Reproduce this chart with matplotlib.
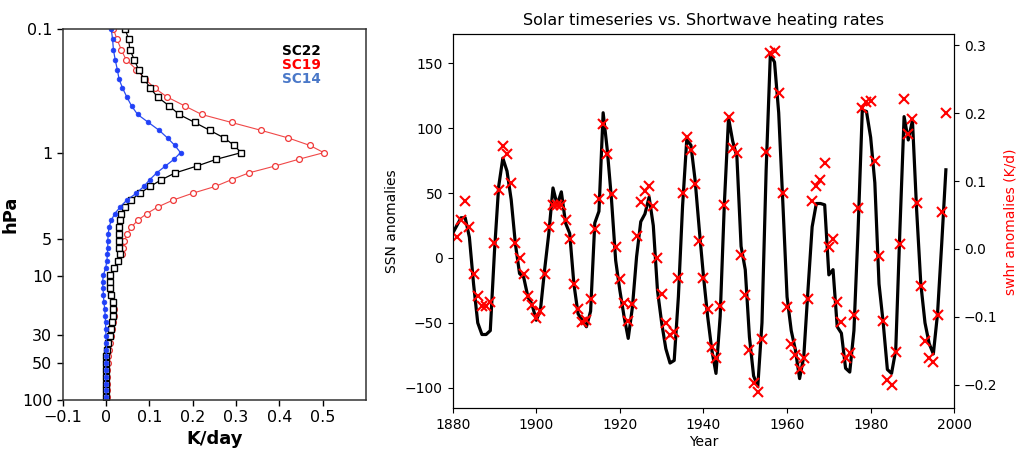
import numpy as np
import matplotlib
matplotlib.use("Agg")
import matplotlib.pyplot as plt

# ---- left panel: heating rate profiles (K/day) on model pressure levels (hPa)
plev = [0.1, 0.1205, 0.1465, 0.1765, 0.2126, 0.2537, 0.300, 0.3546, 0.4193, 0.4913,
        0.570, 0.6613, 0.7607, 0.8746, 1.0, 1.131, 1.283, 1.457, 1.653, 1.876,
        2.129, 2.416, 2.743, 3.112, 3.533, 4.010, 4.550, 5.164, 5.861, 6.653,
        7.548, 8.567, 9.725, 11.04, 12.53, 14.22, 16.14, 18.31, 20.78, 23.59,
        26.78, 30.38, 34.48, 39.14, 44.42, 50.41, 57.22, 64.93, 73.69, 83.62,
        94.93]

sc22 = [0.044, 0.052, 0.055, 0.065, 0.075, 0.088, 0.102, 0.119, 0.146, 0.169,
        0.205, 0.240, 0.273, 0.296, 0.312, 0.255, 0.210, 0.160, 0.128, 0.102,
        0.078, 0.058, 0.043, 0.035, 0.032, 0.031, 0.029, 0.029, 0.031, 0.033,
        0.028, 0.018, 0.010, 0.009, 0.009, 0.012, 0.015, 0.017, 0.017, 0.014,
        0.011, 0.008, 0.005, 0.003, 0.001, 0.000, -0.001, -0.001, -0.001, 0.000,
        0.000]

sc19 = [0.017, 0.025, 0.035, 0.046, 0.070, 0.090, 0.112, 0.141, 0.182, 0.221,
        0.290, 0.359, 0.421, 0.471, 0.503, 0.445, 0.390, 0.330, 0.290, 0.252,
        0.200, 0.155, 0.120, 0.094, 0.073, 0.058, 0.049, 0.042, 0.040, 0.036,
        0.028, 0.018, 0.010, 0.008, 0.009, 0.012, 0.016, 0.018, 0.019, 0.017,
        0.014, 0.011, 0.009, 0.007, 0.005, 0.004, 0.003, 0.003, 0.003, 0.003,
        0.003]

sc14 = [0.012, 0.015, 0.017, 0.021, 0.026, 0.030, 0.038, 0.048, 0.059, 0.073,
        0.098, 0.123, 0.142, 0.159, 0.172, 0.157, 0.137, 0.117, 0.101, 0.087,
        0.070, 0.048, 0.033, 0.020, 0.012, 0.007, 0.005, 0.004, 0.004, 0.003,
        0.002, -0.001, -0.006, -0.008, -0.007, -0.006, -0.005, -0.003, -0.002, -0.001,
        -0.001, 0.000, 0.001, 0.001, 0.000, 0.000, -0.001, -0.001, -0.001, 0.000,
        0.000]

p_ticks = [0.1, 1, 5, 10, 30, 50, 100]
p_labels = ['0.1', '1', '5', '10', '30', '50', '100']
k_ticks = [-0.1, 0, 0.1, 0.2, 0.3, 0.4, 0.5]
k_labels = ['\u22120.1', '0', '0.1', '0.2', '0.3', '0.4', '0.5']

# ---- right panel: SSN anomalies (line) and swhr anomalies (crosses)
ssn_years = np.arange(1880, 1999)
ssn = [19, 25, 31, 31, 16, -20, -50, -59, -59, -56,
       5, 55, 77, 67, 45, 11, -12, -15, -30, -36,
       -48, -40, -9, 19, 54, 41, 51, 27, 19, -20,
       -43, -48, -53, -41, 27, 36, 112, 83, 45, -2,
       -25, -45, -62, -38, 1, 28, 34, 47, 25, -25,
       -50, -70, -81, -79, -30, 40, 91, 87, 60, 22,
       -14, -45, -71, -89, -45, 42, 108, 90, 78, 9,
       -9, -61, -91, -99, -50, 68, 157, 151, 112, 42,
       -30, -56, -71, -93, -76, -25, 24, 42, 42, 41,
       -13, -9, -53, -58, -85, -88, -56, 22, 114, 113,
       93, 58, -20, -50, -86, -89, -71, 22, 109, 91,
       106, 37, -20, -50, -66, -74, -43, 11, 68]

swhr_years = np.arange(1881, 1999)
swhr = [0.018, 0.043, 0.071, 0.033, -0.037, -0.069, -0.084, -0.084, -0.078,
        0.008, 0.087, 0.152, 0.140, 0.097, 0.009, -0.014, -0.037, -0.070, -0.082,
        -0.102, -0.091, -0.037, 0.032, 0.065, 0.065, 0.065, 0.043, 0.014, -0.052,
        -0.089, -0.107, -0.105, -0.074, 0.030, 0.074, 0.184, 0.140, 0.081, 0.003,
        -0.045, -0.079, -0.106, -0.081, 0.019, 0.069, 0.086, 0.092, 0.063, -0.014,
        -0.066, -0.109, -0.127, -0.122, -0.043, 0.083, 0.165, 0.145, 0.096, 0.011,
        -0.043, -0.089, -0.145, -0.161, -0.084, 0.065, 0.194, 0.148, 0.141, -0.009,
        -0.068, -0.149, -0.197, -0.210, -0.132, 0.142, 0.288, 0.291, 0.229, 0.083,
        -0.085, -0.140, -0.156, -0.177, -0.161, -0.073, 0.070, 0.093, 0.102, 0.126,
        0.003, 0.014, -0.078, -0.108, -0.161, -0.153, -0.098, 0.060, 0.207, 0.217,
        0.218, 0.129, -0.011, -0.106, -0.193, -0.200, -0.151, 0.007, 0.220, 0.169,
        0.192, 0.067, -0.054, -0.135, -0.160, -0.167, -0.098, 0.055, 0.200]

plt.rcParams['font.family'] = ['DejaVu Sans']
fig = plt.figure(figsize=(10.17, 4.51), dpi=100)

# left panel
ax1 = fig.add_axes([0.0617, 0.1131, 0.298, 0.8226])
ax1.plot(sc19, plev, color='#f04848', lw=0.8, marker='o', ms=4.2, mfc='white',
         mec='#f03838', mew=0.9)
ax1.plot(sc22, plev, color='black', lw=0.9, marker='s', ms=4.8, mfc='white',
         mec='black', mew=1.0)
ax1.plot(sc14, plev, color='#2a4cf0', lw=0.9, marker='o', ms=3.4, mfc='#2040f8',
         mec='#2040f8', mew=0.5)
ax1.set_yscale('log')
ax1.set_ylim(100, 0.1)
ax1.set_xlim(-0.1, 0.6)
ax1.set_yticks(p_ticks)
ax1.set_yticklabels(p_labels)
ax1.yaxis.set_minor_locator(matplotlib.ticker.NullLocator())
ax1.set_xticks(k_ticks)
ax1.set_xticklabels(k_labels)
ax1.tick_params(labelsize=11.5, width=1.0, length=4)
for s in ax1.spines.values():
    s.set_linewidth(1.1)
    s.set_color('#333333')
ax1.set_ylabel('hPa', fontsize=13, fontweight='bold', labelpad=2)
ax1.set_xlabel('K/day', fontsize=13, fontweight='bold', labelpad=3)
ax1.text(0.723, 0.941, 'SC22', transform=ax1.transAxes, color='black',
         fontsize=9.8, fontweight='bold', va='center')
ax1.text(0.723, 0.904, 'SC19', transform=ax1.transAxes, color='#ff0000',
         fontsize=9.8, fontweight='bold', va='center')
ax1.text(0.723, 0.865, 'SC14', transform=ax1.transAxes, color='#4a78c8',
         fontsize=9.8, fontweight='bold', va='center')

# right panel
ax = fig.add_axes([0.4451, 0.0947, 0.4932, 0.8293])
ax.plot(ssn_years, ssn, color='black', lw=2.3)
ax.set_xlim(1880, 2000)
ax.set_ylim(-115.9, 172.5)
ax.set_xticks([1880, 1900, 1920, 1940, 1960, 1980, 2000])
ax.set_yticks([-100, -50, 0, 50, 100, 150])
ax.tick_params(labelsize=10)
ax.set_xlabel('Year', fontsize=10, labelpad=2)
ax.set_ylabel('SSN anomalies', fontsize=10)
ax.set_title('Solar timeseries vs. Shortwave heating rates', fontsize=11.5, pad=7)

ax2 = ax.twinx()
ax2.plot(swhr_years, swhr, 'x', color='red', ms=6.5, mew=1.5)
ax2.set_ylim(-0.2346, 0.316)
ax2.set_yticks([-0.2, -0.1, 0.0, 0.1, 0.2, 0.3])
ax2.tick_params(labelsize=10)
ax2.set_ylabel('swhr anomalies (K/d)', color='red', fontsize=10)

fig.savefig('out.png', dpi=100)
